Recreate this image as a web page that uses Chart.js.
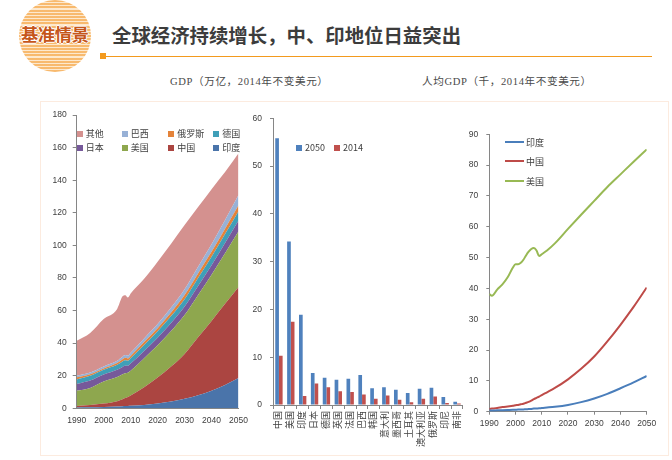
<!DOCTYPE html>
<html>
<head>
<meta charset="utf-8">
<script src="https://cdn.jsdelivr.net/npm/chart.js@4.4.1/dist/chart.umd.min.js"></script>
<style>
html,body{margin:0;padding:0;background:#fff;width:672px;height:460px;overflow:hidden;font-family:"Noto Sans CJK SC","Liberation Sans",sans-serif;}
.abs{position:absolute;}
#logo{left:19px;top:0px;width:72px;height:72px;border-radius:50%;
  background:repeating-linear-gradient(180deg,#f7b25e 0px,#f7b25e 2px,#fde6c8 2px,#fde6c8 3.2px);opacity:0.9;}
#logotext{left:21px;top:24px;font-size:17.2px;font-weight:bold;color:#c5561a;letter-spacing:-0.3px;
  text-shadow:1px 0 #fff,-1px 0 #fff,0 1px #fff,0 -1px #fff;line-height:20px;white-space:nowrap;}
#title{left:112px;top:22px;font-size:19.4px;font-weight:bold;color:#3c3c3c;line-height:26px;white-space:nowrap;}
#rule{left:104px;top:55.5px;width:548px;height:1.3px;background:#f39a1e;}
#sq{left:100px;top:53px;width:6px;height:6px;background:#f39a1e;}
.sub{top:75px;font-family:"Liberation Serif","Noto Sans CJK SC",serif;font-size:10.6px;color:#4a4a4a;line-height:14px;white-space:nowrap;letter-spacing:0.6px;}
#frame{left:40px;top:101px;width:627px;height:353px;border:1px solid #fcebdf;}
.lg{position:absolute;font-size:9px;color:#404040;line-height:12px;white-space:nowrap;}
.box{display:inline-block;width:6px;height:6px;margin-right:3px;vertical-align:0px;}
.ln{display:inline-block;width:19px;height:2px;margin-right:2px;vertical-align:3px;}
canvas{position:absolute;}
</style>
</head>
<body>
<div id="logo" class="abs"></div>
<div id="logotext" class="abs">基准情景</div>
<div id="title" class="abs">全球经济持续增长，中、印地位日益突出</div>
<div id="rule" class="abs"></div>
<div id="sq" class="abs"></div>
<div class="abs sub" style="left:170px;">GDP（万亿，2014年不变美元）</div>
<div class="abs sub" style="left:422px;">人均GDP（千，2014年不变美元）</div>
<div id="frame" class="abs"></div>

<canvas id="c1" width="215" height="353" style="left:40px;top:102px;width:215px;height:353px;"></canvas>
<canvas id="c2" width="230" height="353" style="left:240px;top:102px;width:230px;height:353px;"></canvas>
<canvas id="c3" width="213" height="353" style="left:455px;top:102px;width:213px;height:353px;"></canvas>
<div id="legends"></div>

<script>
// ---------- Data: stacked GDP (万亿, 2014年不变美元) ----------
const gdpYears   = [1990,1995,2000,2005,2007,2008,2009,2010,2015,2020,2025,2030,2035,2040,2045,2050];
const gdpIndia   = [0.5,0.6,0.8,1.1,1.3,1.35,1.45,1.55,2.1,3.0,4.2,5.8,8.0,10.8,14.3,18.6];
const gdpChina   = [0.9,1.4,2.1,3.3,4.3,4.9,5.5,6.3,10.8,15.9,21.4,27.6,35.6,42.8,49.8,55.9];
const gdpUS      = [9.3,10.5,13.6,14.8,15.3,15.3,14.9,15.2,17.8,19.8,21.8,23.8,26.0,28.4,31.1,34.2];
const gdpJapan   = [4.2,4.5,4.2,4.4,4.5,4.5,4.2,4.4,4.5,4.6,4.9,5.2,5.5,5.8,6.2,6.6];
const gdpGermany = [2.8,3.0,3.0,3.1,3.3,3.4,3.2,3.3,3.7,4.0,4.3,4.6,4.9,5.2,5.5,5.7];
const gdpRussia  = [1.3,0.9,0.8,1.1,1.4,1.5,1.3,1.4,1.8,1.9,2.2,2.5,2.8,3.0,3.3,3.6];
const gdpBrazil  = [1.0,1.1,1.2,1.4,1.6,1.7,1.7,1.9,2.2,2.5,3.0,3.5,4.1,4.7,5.4,6.3];
const gdpOthers  = [21.4,24.2,29.1,31.8,37.0,36.7,35.7,36.4,36.6,38.3,39.2,39.5,36.6,33.8,29.4,25.6];
const areaNames  = ['印度','中国','美国','日本','德国','俄罗斯','巴西','其他'];

// ---------- Data: GDP by country, 2050 vs 2014 ----------
const barCountries = ['中国','美国','印度','日本','德国','英国','法国','巴西','韩国','意大利','墨西哥','土耳其','澳大利亚','俄罗斯','印尼','南非'];
const bar2050 = [55.8,34.2,18.9,6.7,5.7,5.3,5.5,6.3,3.5,3.7,3.2,2.5,3.4,3.6,1.7,0.7];
const bar2014 = [10.3,17.4,1.9,4.5,3.7,2.9,2.7,2.2,1.3,2.0,1.1,0.6,1.3,1.8,0.4,0.3];
const barSeriesNames = ['2050','2014'];

// ---------- Data: GDP per capita (千, 2014年不变美元) ----------
const pcYears = [1990,1991,1993,1995,1997,1999,2000,2001,2002,2003,2004,2005,2006,2007,2008,2009,2010,2012,2015,2020,2025,2030,2035,2040,2045,2050];
const pcIndia = [0.4,0.4,0.45,0.5,0.55,0.6,0.65,0.7,0.7,0.75,0.8,0.85,0.9,1.0,1.05,1.1,1.2,1.35,1.6,2.2,3.1,4.3,5.8,7.6,9.5,11.6];
const pcChina = [0.9,1.0,1.2,1.5,1.7,1.9,2.1,2.2,2.4,2.6,2.9,3.2,3.6,4.1,4.5,4.9,5.4,6.3,7.7,10.5,13.9,17.9,22.8,28.2,34.0,40.3];
const pcUS    = [38.2,37.6,39.6,41.3,43.6,46.8,47.8,47.8,48.3,49.3,50.7,51.9,52.8,53.1,52.3,50.5,51.1,52.3,54.6,59.3,63.9,68.4,72.9,77.0,81.1,85.1];
const pcNames = ['印度','中国','美国'];

// ---------- Styles ----------
const areaColors = ['#4a74aa','#ab4541','#8ea74e','#76599a','#3f9fb8','#e4833a','#98b1d6','#d4918f'];
const barColors  = ['#4f81bd','#c0504d'];
const pcColors   = ['#4a7ebb','#be4b48','#98b954'];
const axisColor  = '#868686';

Chart.defaults.animation = false;
Chart.defaults.font.family = '"Liberation Sans","Noto Sans CJK SC",sans-serif';
Chart.defaults.font.size = 8.5;
Chart.defaults.color = '#404040';
Chart.defaults.plugins.legend.display = false;
Chart.defaults.plugins.tooltip.enabled = false;

const fixW = w => s => { s.width = w; };
const fixH = h => s => { s.height = h; };
const toXY = (xs, ys) => xs.map((x, i) => ({x: x, y: ys[i]}));

// ---------- Chart 1: stacked area ----------
const areaSeries = [gdpIndia,gdpChina,gdpUS,gdpJapan,gdpGermany,gdpRussia,gdpBrazil,gdpOthers];
new Chart(document.getElementById('c1'), {
  type: 'line',
  data: {
    datasets: areaSeries.map((s, i) => ({
      label: areaNames[i],
      data: toXY(gdpYears, s),
      backgroundColor: areaColors[i],
      borderColor: areaColors[i],
      borderWidth: 0,
      pointRadius: 0,
      fill: i === 0 ? 'origin' : '-1',
      cubicInterpolationMode: 'monotone'
    }))
  },
  options: {
    responsive: false,
    layout: {padding: {top: 13, right: 14.7, left: 0, bottom: 0}},
    scales: {
      x: {type: 'linear', min: 1990, max: 2050,
          ticks: {stepSize: 10, padding: 7, callback: v => String(v)},
          grid: {display: true, drawOnChartArea: false, drawTicks: false, color: axisColor},
          border: {display: true, color: axisColor},
          afterFit: fixH(46.7)},
      y: {stacked: true, min: 0, max: 180,
          ticks: {stepSize: 20, padding: 6},
          grid: {display: true, drawOnChartArea: false, drawTicks: true, tickLength: 4, color: axisColor},
          border: {display: true, color: axisColor},
          afterFit: fixW(36.7)}
    }
  }
});

// ---------- Chart 2: grouped bars ----------
new Chart(document.getElementById('c2'), {
  type: 'bar',
  data: {
    labels: barCountries,
    datasets: [bar2050, bar2014].map((s, i) => ({
      label: barSeriesNames[i],
      data: s,
      backgroundColor: barColors[i],
      borderWidth: 0,
      categoryPercentage: 0.62,
      barPercentage: 1.0
    }))
  },
  options: {
    responsive: false,
    layout: {padding: {top: 16.3, right: 5, left: 0, bottom: 0}},
    scales: {
      x: {ticks: {minRotation: 90, maxRotation: 90, autoSkip: false, padding: 2, font: {size: 9}},
          grid: {display: true, drawOnChartArea: false, drawTicks: true, tickLength: 4, offset: true, color: axisColor},
          border: {display: true, color: axisColor},
          afterFit: fixH(50)},
      y: {min: 0, max: 60,
          ticks: {stepSize: 10, padding: 8},
          grid: {display: true, drawOnChartArea: false, drawTicks: true, tickLength: 3, color: axisColor},
          border: {display: true, color: axisColor},
          afterFit: fixW(33)}
    }
  }
});

// ---------- Chart 3: per-capita lines ----------
new Chart(document.getElementById('c3'), {
  type: 'line',
  data: {
    datasets: [pcIndia, pcChina, pcUS].map((s, i) => ({
      label: pcNames[i],
      data: toXY(pcYears, s),
      borderColor: pcColors[i],
      backgroundColor: pcColors[i],
      borderWidth: 2,
      pointRadius: 0,
      fill: false,
      cubicInterpolationMode: 'monotone'
    }))
  },
  options: {
    responsive: false,
    layout: {padding: {top: 32.3, right: 21.3, left: 0, bottom: 0}},
    scales: {
      x: {type: 'linear', min: 1990, max: 2050,
          ticks: {stepSize: 10, padding: 4, callback: v => String(v)},
          grid: {display: true, drawOnChartArea: false, drawTicks: true, tickLength: 3, color: axisColor},
          border: {display: true, color: axisColor},
          afterFit: fixH(43.3)},
      y: {min: 0, max: 90,
          ticks: {stepSize: 10, padding: 8},
          grid: {display: true, drawOnChartArea: false, drawTicks: true, tickLength: 3, color: axisColor},
          border: {display: true, color: axisColor},
          afterFit: fixW(34.3)}
    }
  }
});

// ---------- HTML legends ----------
const lgRoot = document.getElementById('legends');
function addLegend(x, y, color, text, kind) {
  const d = document.createElement('div');
  d.className = 'lg';
  d.style.left = x + 'px';
  d.style.top = (y - 6) + 'px';
  const m = document.createElement('span');
  m.className = kind;
  m.style.background = color;
  d.appendChild(m);
  d.appendChild(document.createTextNode(text));
  lgRoot.appendChild(d);
}
// area legend: reversed order in a 4-column grid
const areaCols = [76.7, 121.7, 168.3, 213.3];
const areaRows = [134.3, 147.7];
for (let k = 0; k < areaNames.length; k++) {
  const i = areaNames.length - 1 - k;
  addLegend(areaCols[k % 4], areaRows[Math.floor(k / 4)], areaColors[i], areaNames[i], 'box');
}
// bar legend
addLegend(296, 148, barColors[0], barSeriesNames[0], 'box');
addLegend(334, 148, barColors[1], barSeriesNames[1], 'box');
// line legend
const pcRows = [142.7, 162.3, 181.7];
pcNames.forEach((n, i) => addLegend(505, pcRows[i], pcColors[i], n, 'ln'));
</script>
</body>
</html>
